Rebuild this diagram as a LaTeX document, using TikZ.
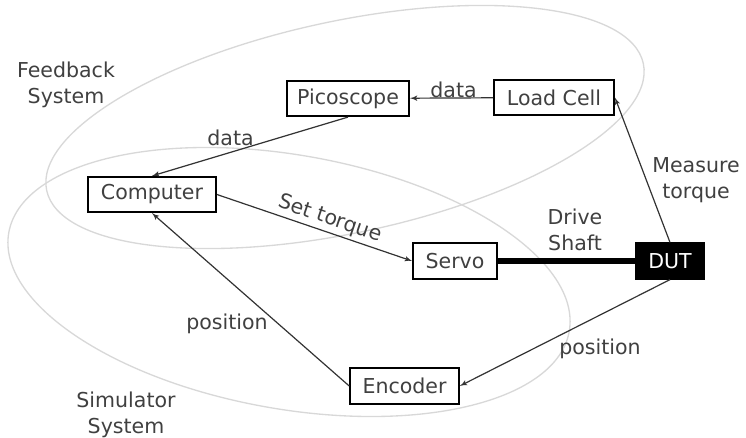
\documentclass[tikz,border=0pt]{standalone}
\usepackage{fontspec}
\setmainfont{DejaVu Sans}
\usetikzlibrary{arrows}
\definecolor{txt}{HTML}{404040}
\definecolor{ringgray}{HTML}{D8D8D8}

\begin{document}
\begin{tikzpicture}[x=0.75pt,y=-0.75pt,font=\fontsize{15.4}{19.5}\selectfont]
\tikzset{box/.style = {shape=rectangle,draw,line width=1.4pt,fill=white,text=txt,minimum height=26.5pt,inner sep=0pt}}
\tikzset{ring/.style = {draw=ringgray,line width=1pt}}
\tikzset{edge/.style = {->,> = latex',draw=black!80,line width=0.9pt}}
\tikzset{lab/.style = {text=txt,align=center,inner sep=0pt}}
\useasboundingbox (0,0) rectangle (746,438);

%systems
\draw[ring,rotate around={12:(345,127)}] (345,127) ellipse [x radius=228.75pt, y radius=79.5pt];
\draw[ring,rotate around={-10:(289,282)}] (289,282) ellipse [x radius=213.4pt, y radius=95.25pt];

%blocks
\node[box,minimum width=91.5pt] (pico) at (348,98.5) {Picoscope};
\node[box,minimum width=90pt] (load) at (554,97.5) {Load Cell};
\node[box,minimum width=96pt] (comp) at (152,194.5) {Computer};
\node[box,minimum width=63pt] (servo) at (455,261) {Servo};
\node[box,minimum width=51pt,fill=black,text=white] (dut) at (670,261) {DUT};
\node[box,minimum width=81.5pt] (enc) at (404.5,386) {Encoder};

%labels
\node[lab] (fb) at (66,85) {Feedback\\System};
\node[lab] (sim) at (126,415) {Simulator\\System};
\node[lab] (shaft) at (575,230) {Drive\\Shaft};
\node[lab] (meas) at (696,180) {Measure\\torque};
\node[lab] (d1) at (453.5,89.5) {data};
\node[lab] (d2) at (230.5,137.5) {data};
\node[lab] (p1) at (227,324) {position};
\node[lab] (p2) at (600,349) {position};
\node[lab,rotate=-18.7] (st) at (330,219) {Set torque};

%edges
\draw[edge] (load) -- (pico);
\draw[edge] (pico.south) -- (comp.north);
\draw[edge] (comp.east) -- (servo.west);
\draw[edge] (enc.west) -- (comp.south);
\draw[edge] (dut.south) -- (enc.east);
\draw[edge] (dut.north) -- (load.east);
\draw[line width=4.5pt] (servo) -- (dut);
\end{tikzpicture}
\end{document}
